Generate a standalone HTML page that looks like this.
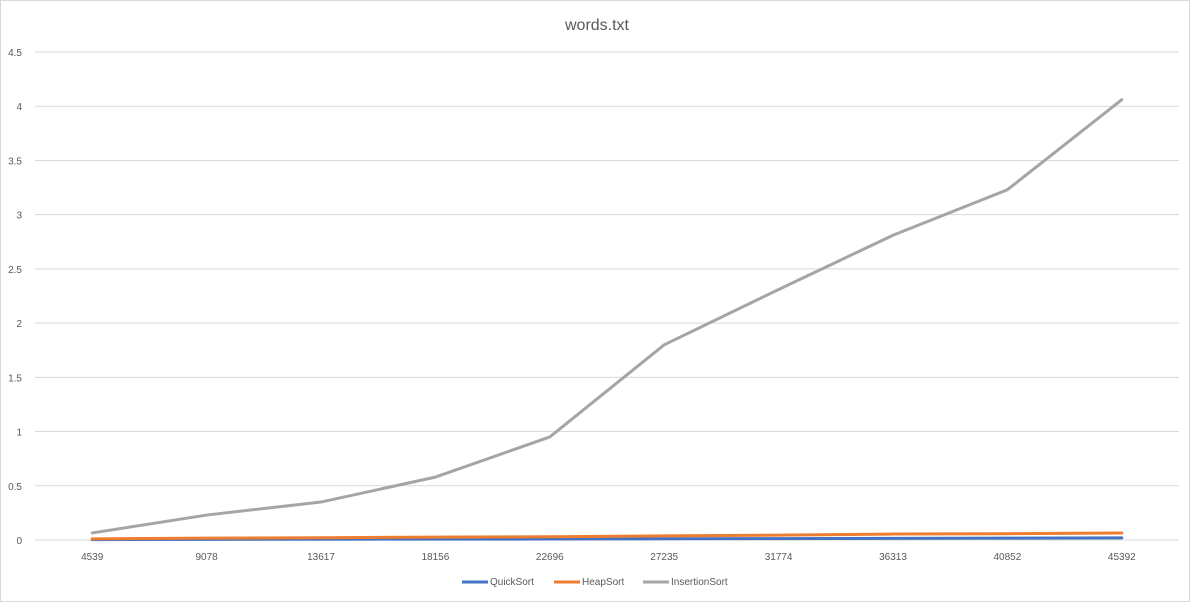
<!DOCTYPE html>
<html><head><meta charset="utf-8"><style>
body{margin:0;background:#fff;width:1196px;height:607px;overflow:hidden;font-family:"Liberation Sans",sans-serif}
</style></head><body>
<svg width="1196" height="607" xmlns="http://www.w3.org/2000/svg">
<rect x="0.5" y="0.5" width="1189" height="601" fill="#fff" stroke="#d9d9d9"/>
<text x="597" y="30" text-anchor="middle" font-size="16" fill="#595959">words.txt</text>
<g id="grid"></g><g id="series"></g>
<g font-size="10" fill="#595959">
<line x1="462" y1="582" x2="488" y2="582" stroke="#4472c4" stroke-width="3"/>
<text x="490" y="585">QuickSort</text>
<line x1="554" y1="582" x2="580" y2="582" stroke="#ed7d31" stroke-width="3"/>
<text x="582" y="585">HeapSort</text>
<line x1="643" y1="582" x2="669" y2="582" stroke="#a5a5a5" stroke-width="3"/>
<text x="671" y="585">InsertionSort</text>
</g>
</svg>
<script>
const categories=["4539","9078","13617","18156","22696","27235","31774","36313","40852","45392"];
const quickSort=[0.004,0.006,0.007,0.008,0.009,0.011,0.013,0.015,0.017,0.02];
const heapSort=[0.01,0.017,0.021,0.027,0.03,0.038,0.045,0.055,0.058,0.065];
const insertionSort=[0.065,0.23,0.35,0.58,0.95,1.8,2.31,2.81,3.23,4.06];
const yTicks=[0,0.5,1,1.5,2,2.5,3,3.5,4,4.5];
const L=35,R=1179,T=52,B=540,MAX=4.5;
const step=(R-L)/categories.length;
const xs=i=>L+step*(i+0.5);
const ys=v=>B-(B-T)*v/MAX;
const ns="http://www.w3.org/2000/svg";
const grid=document.getElementById('grid'),ser=document.getElementById('series');
function mk(tag,a,p){const e=document.createElementNS(ns,tag);for(const k in a)e.setAttribute(k,a[k]);p.appendChild(e);return e;}
yTicks.forEach(v=>{
 const l=mk('line',{x1:L,x2:R,y1:ys(v),y2:ys(v),stroke:'#d9d9d9'},grid);
 
 
 const t=mk('text',{x:22,y:ys(v)+4,'text-anchor':'end','font-size':'10',fill:'#595959'},grid);
 t.textContent=String(v);
 
 
});
categories.forEach((c,i)=>{
 const t=mk('text',{x:xs(i),y:560,'text-anchor':'middle','font-size':'10',fill:'#595959'},grid);
 t.textContent=c;
 
 
});
[[quickSort,'#4472c4','quicksort-line'],[heapSort,'#ed7d31','heapsort-line'],[insertionSort,'#a5a5a5','insertionsort-line']].forEach(([d,c,n])=>{
 const p=mk('polyline',{points:d.map((v,i)=>xs(i)+','+ys(v)).join(' '),fill:'none',stroke:c,'stroke-width':'3','stroke-linejoin':'round','stroke-linecap':'round'},ser);
 
 
});
</script>
</body></html>
